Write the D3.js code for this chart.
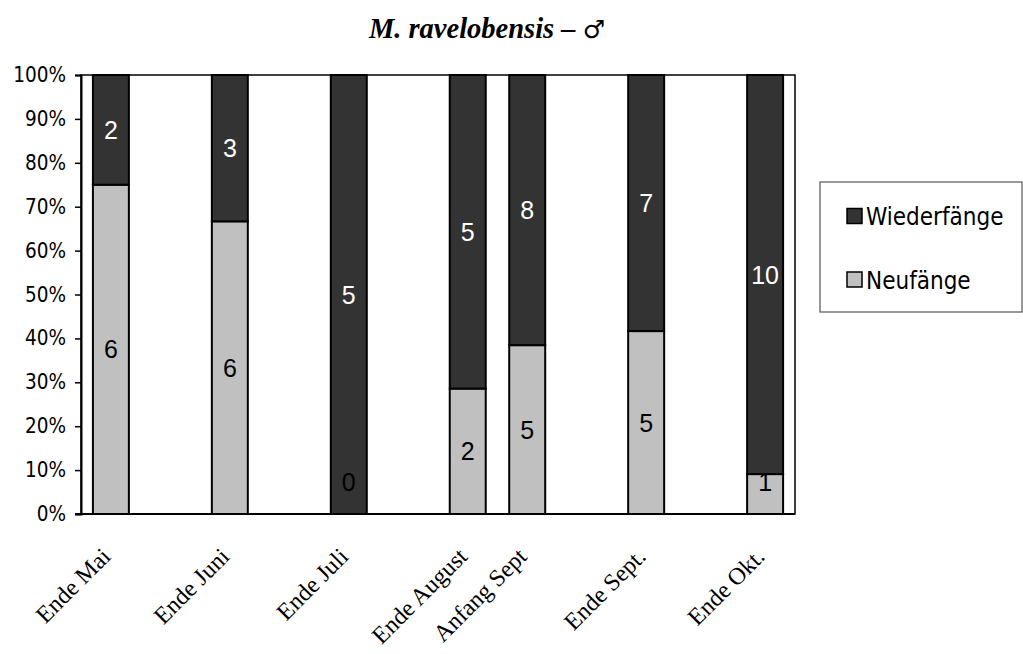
<!DOCTYPE html>
<html><head><meta charset="utf-8">
<script src="https://cdn.jsdelivr.net/npm/d3@7"></script>
<style>html,body{margin:0;padding:0;background:#fff;}svg{display:block;}</style>
</head><body>
<svg id="chart" width="1023" height="654"></svg>
<script>
// ---- data ----
const timeline = ["Ende Mai", null, "Ende Juni", null, "Ende Juli", null, "Ende August", "Anfang Sept", null, "Ende Sept.", null, "Ende Okt."];
const categories = ["Ende Mai", "Ende Juni", "Ende Juli", "Ende August", "Anfang Sept", "Ende Sept.", "Ende Okt."];
const neufaenge = [6, 6, 0, 2, 5, 5, 1];
const wiederfaenge = [2, 3, 5, 5, 8, 7, 10];
const seriesNames = ["Neufänge", "Wiederfänge"];
const yTicks = [0, 0.1, 0.2, 0.3, 0.4, 0.5, 0.6, 0.7, 0.8, 0.9, 1];
const titleText = "M. ravelobensis – ";
const titleSymbol = "♂";

// ---- layout ----
const svg = d3.select("#chart");
const L = 81, R = 795, T = 75, B = 514;
const colors = {"Neufänge": "#c0c0c0", "Wiederfänge": "#333333"};

const rows = categories.map((c, i) => ({cat: c, "Neufänge": neufaenge[i], "Wiederfänge": wiederfaenge[i]}));
const stack = d3.stack().keys(seriesNames).offset(d3.stackOffsetExpand)(rows);

const x = d3.scaleBand().domain(timeline.map((d, i) => d ?? ("_" + i)))
  .range([L, R]).paddingInner(0.395).paddingOuter(0.2);
const y = d3.scaleLinear().domain([0, 1]).range([B, T]);

// plot frame
svg.append("rect").attr("x", L).attr("y", T).attr("width", R - L).attr("height", B - T)
  .attr("fill", "#fff").attr("stroke", "#000").attr("stroke-width", 1.5);

// bars
const g = svg.append("g");
stack.forEach(s => {
  g.selectAll(null).data(s).enter().append("rect")
    .attr("x", d => x(d.data.cat))
    .attr("width", x.bandwidth())
    .attr("y", d => y(d[1]))
    .attr("height", d => y(d[0]) - y(d[1]))
    .attr("fill", colors[s.key])
    .attr("stroke", "#000").attr("stroke-width", 2);
});

// data labels
stack.forEach(s => {
  g.selectAll(null).data(s).enter().append("text")
    .attr("x", d => x(d.data.cat) + x.bandwidth() / 2)
    .attr("y", d => Math.min((y(d[0]) + y(d[1])) / 2, y(d[0]) - 32))
    .attr("dy", "0.36em")
    .attr("text-anchor", "middle")
    .attr("font-family", "Liberation Sans, Arial, sans-serif")
    .attr("font-size", 25)
    .attr("fill", s.key === "Wiederfänge" ? "#fff" : "#000")
    .text(d => d.data[s.key]);
});

// y axis
const yAxis = svg.append("g").attr("transform", `translate(${L},0)`)
  .call(d3.axisLeft(y).tickValues(yTicks).tickSize(6).tickPadding(9).tickFormat(d3.format(".0%")));
yAxis.select(".domain").attr("stroke-width", 2);
yAxis.selectAll(".tick line").attr("stroke-width", 1.5);
yAxis.selectAll("text").attr("font-family", "DejaVu Sans Condensed, DejaVu Sans, sans-serif")
  .attr("font-size", 20.5).attr("fill", "#000");

// bottom line
svg.append("line").attr("x1", L - 6).attr("x2", R).attr("y1", B).attr("y2", B)
  .attr("stroke", "#000").attr("stroke-width", 2);

// x labels
svg.append("g").selectAll("text").data(categories).enter().append("text")
  .attr("transform", d => `translate(${x(d) + x.bandwidth() / 2 + 1},${B + 44}) rotate(-45)`)
  .attr("text-anchor", "end")
  .attr("font-family", "Liberation Serif, Times New Roman, serif")
  .attr("font-size", 24)
  .attr("fill", "#000")
  .text(d => d);

// title
const title = svg.append("text").attr("x", 487).attr("y", 38).attr("text-anchor", "middle")
  .attr("font-family", "Liberation Serif, Times New Roman, serif")
  .attr("font-size", 28.5).attr("font-weight", "bold").attr("font-style", "italic");
title.append("tspan").text(titleText);
title.append("tspan").attr("font-family", "DejaVu Sans, sans-serif").attr("font-weight", "normal")
  .attr("font-style", "normal").attr("font-size", 25).text(titleSymbol);

// legend
const lg = svg.append("g");
lg.append("rect").attr("x", 820).attr("y", 182).attr("width", 202).attr("height", 130)
  .attr("fill", "#fff").attr("stroke", "#555").attr("stroke-width", 1.2);
const legendItems = ["Wiederfänge", "Neufänge"];
legendItems.forEach((k, i) => {
  const cy = 216.5 + i * 63.5;
  lg.append("rect").attr("x", 847).attr("y", cy - 8).attr("width", 15).attr("height", 15)
    .attr("fill", colors[k]).attr("stroke", "#000").attr("stroke-width", 1.5);
  lg.append("text").attr("x", 866).attr("y", cy).attr("dy", "0.36em")
    .attr("font-family", "DejaVu Sans Condensed, DejaVu Sans, sans-serif")
    .attr("font-size", 24).attr("fill", "#000").text(k);
});
</script>
</body></html>
